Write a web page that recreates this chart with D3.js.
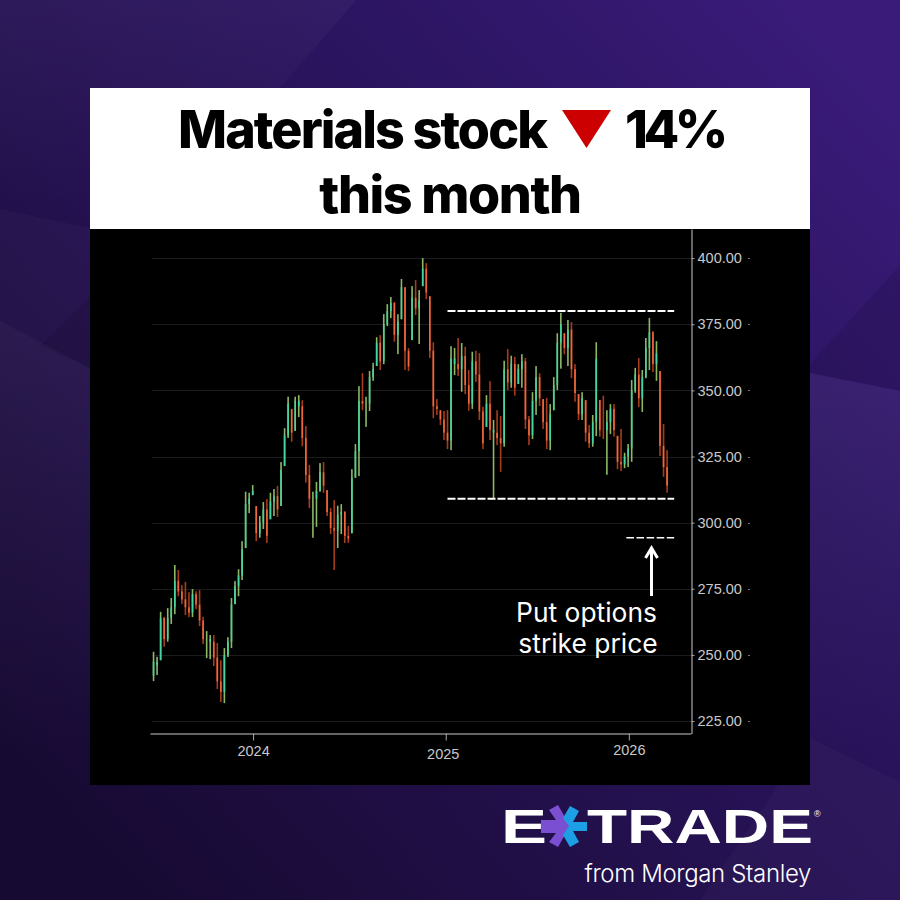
<!DOCTYPE html>
<html>
<head>
<meta charset="utf-8">
<script src="https://cdn.jsdelivr.net/npm/d3@7"></script>
<style>
  html, body { margin: 0; padding: 0; background: #21104a; }
  svg { display: block; }
</style>
</head>
<body>
<div id="chart"></div>
<script>
// weekly price bars
const highs = [251.2,249.3,266.3,264.4,267.7,271.5,284,282.1,276.4,277.6,273.7,274.9,274.1,274.5,264.4,259,257.5,257.5,254.5,248,252.6,256.7,271.5,277.9,282.4,293,
  311.7,311.3,314.2,306.3,302.5,307.8,308.9,311.3,312.7,313.9,322.9,335.7,347.6,342.9,347.6,348.2,346.3,336.5,321.8,311.7,315.4,322.5,322.9,312.3,305.5,308.5,306.4,307,304.4,298.8,320.2,329.7,351.6,356.5,
  347.6,357.3,360.4,370.1,370.9,378.8,382.6,385.3,383.4,378.8,392.1,389,366,389.4,391.7,387.9,400,398.1,385.6,368.2,346.7,342.5,342.2,342.5,
  366.7,366,369.8,367.9,366.5,357.7,364.6,365,364.1,343.8,348.2,353.5,338.8,342.5,340.3,361.2,365.6,363.1,362.7,359.9,363.7,362.3,340.3,349.3,359.2,356.5,346.7,347.2,344.8,355,371.6,379.3,371.6,376.6,
  375.8,359.9,348.6,349.3,346.3,336.9,340.7,368.2,346.3,348,342.5,344.8,344.8,332.8,335.4,326.4,329.7,353.9,358.5,362.2,357.7,369.8,377.4,372.4,368.6,357.3,337.3,327.4];
const lows = [240.1,242.4,248,253.1,255,261.7,265.4,272.2,269.2,265.1,264.3,264.3,267.3,260.9,254.1,248.8,248.4,245.8,237.1,232.2,231.8,249.2,252.6,269.2,272.2,278.3,
  290.4,303.6,310.4,293,294.3,297.6,292.3,301.3,302.5,302.2,306.3,321.4,332,330.6,334.7,339.9,328.9,315.1,305.5,294.3,298.4,311.7,311.3,302.5,295.7,282.1,290.4,295.7,292.3,292.4,296,317,317.6,342.5,
  336.2,342.2,353.6,359.2,357.7,359.9,374.3,377.3,368.4,363.7,376.9,357.7,357.3,369,378.5,367.5,389.4,384.5,362.2,339.5,340.7,336.9,331.2,327.8,
  327.4,355.8,355.4,349.5,348.6,342.3,343,353.2,338.8,327.8,336.2,331.2,308.9,329.3,319.2,328.7,350.1,351,348,352.4,351,335.4,329.3,331.6,340.7,344.1,335.4,327.8,327.4,342.5,350.1,358.2,363.7,359.2,
  354.6,345.7,338.8,338.8,330.6,328.3,328.7,332.7,332.5,331.6,318.1,333.5,332.5,320.2,319.5,320.6,321,323,349.1,343.7,341.8,354.6,357.7,356.9,353.6,325.2,317.3,311.3];
const closes = [247.5,246,264,256,264,268,278,274,271,268,266,273,269,263,256,256,255,249,240,236,250,255,269,276,280,290,
  307,309,312,296,300,305,295,308,310,305,320,333,345,334,346,344,332,318,309,309,312,319,314,304,298,297,303,304,295,294,317,327,346,345,
  345,355,358,368,361,375,380,383,371,376,389,365,359,385,381,384,396,387,365,344,343,339,334,331,
  362,360,358,363,352,345,361,356,342,330,345,335,334,332,330,358,353,360,351,358,361,339,333,346,355,347,338,331,341,352,368,375,366,373,
  358,349,341,347,334,330,338,362,335,335,338,343,335,323,322,325,328,350,356,347,355,366,372,360,364,329,321,314];
// G = up week, R = down week
const directions = ("GGGRGGGRRR" + "RGRRRGGRRR" + "GGGGGGGGGR" + "GGRGGRGGGR" + "GGRRRGGGRR" +
  "RRGGRRGGGR" + "GGGGRGGGRG" + "GRRGRGGRRR" + "RRRRGGRGRR" + "GRRRGRGRRG" +
  "RGRGGRRGGR" + "RRGGGGRGRR" + "RGRRGGRRGG" + "RRRGGGGRGG" + "GRGRRR");

const priceTicks = [225, 250, 275, 300, 325, 350, 375, 400];
const yearTicks = [28.1, 82.5, 134.2];
const yearLabels = ["2024", "2025", "2026"];

// dashed levels
const rangeLevels = [380, 309];
const strikeLevel = 294.3;

const svg = d3.select("#chart").append("svg")
  .attr("width", 900)
  .attr("height", 900);

const defs = svg.append("defs");
const bgGrad = defs.append("linearGradient").attr("id", "bg")
  .attr("gradientUnits", "userSpaceOnUse")
  .attr("x1", 900).attr("y1", 100).attr("x2", 100).attr("y2", 850);
bgGrad.append("stop").attr("offset", "0%").attr("stop-color", "#3a1b7a");
bgGrad.append("stop").attr("offset", "30%").attr("stop-color", "#2c1562");
bgGrad.append("stop").attr("offset", "60%").attr("stop-color", "#241150");
bgGrad.append("stop").attr("offset", "100%").attr("stop-color", "#170a32");

const waveGrad = defs.append("linearGradient").attr("id", "wave")
  .attr("gradientUnits", "userSpaceOnUse")
  .attr("x1", 0).attr("y1", 330).attr("x2", 0).attr("y2", 760);
waveGrad.append("stop").attr("offset", "0%").attr("stop-color", "#fff").attr("stop-opacity", 0.05);
waveGrad.append("stop").attr("offset", "100%").attr("stop-color", "#fff").attr("stop-opacity", 0);

const topGrad = defs.append("linearGradient").attr("id", "topfade")
  .attr("gradientUnits", "userSpaceOnUse")
  .attr("x1", 0).attr("y1", 0).attr("x2", 0).attr("y2", 210);
topGrad.append("stop").attr("offset", "0%").attr("stop-color", "#fff").attr("stop-opacity", 0.035);
topGrad.append("stop").attr("offset", "100%").attr("stop-color", "#fff").attr("stop-opacity", 0);

svg.append("rect").attr("width", 900).attr("height", 900).attr("fill", "url(#bg)");

// background facets
svg.append("polygon").attr("points", "0,0 356,0 278,90 200,210 0,210").attr("fill", "url(#topfade)");
svg.append("polygon").attr("points", "0,209 90,228 90,368 0,321").attr("fill", "#fff").attr("opacity", 0.025);
svg.append("polygon").attr("points", "90,297 40,346 90,368").attr("fill", "#000").attr("opacity", 0.1);
svg.append("polygon").attr("points", "900,265 810,364 810,373 900,391").attr("fill", "#000").attr("opacity", 0.1);
svg.append("polygon").attr("points", "0,321 90,368 810,373 900,391 900,800 0,800").attr("fill", "url(#wave)");
svg.append("polygon").attr("points", "810,738 900,782 900,900 700,900").attr("fill", "#fff").attr("opacity", 0.025);

// title panel
svg.append("rect").attr("x", 90).attr("y", 88).attr("width", 720).attr("height", 141).attr("fill", "#fff");
svg.append("rect").attr("x", 90).attr("y", 229).attr("width", 720).attr("height", 556).attr("fill", "#000");

const titleFont = "Inter, 'Noto Sans', sans-serif";
svg.append("text").attr("x", 178).attr("y", 148)
  .attr("font-family", titleFont).attr("font-weight", 800).attr("font-size", 52).attr("letter-spacing", -1.9)
  .attr("fill", "#000").text("Materials stock");
svg.append("polygon").attr("points", "562,110 611,110 586.5,148").attr("fill", "#cc0000");
svg.append("text").attr("x", 625).attr("y", 148)
  .attr("font-family", titleFont).attr("font-weight", 800).attr("font-size", 52).attr("letter-spacing", -4.5)
  .attr("fill", "#000").text("14%");
svg.append("text").attr("x", 450).attr("y", 213).attr("text-anchor", "middle")
  .attr("font-family", titleFont).attr("font-weight", 800).attr("font-size", 52).attr("letter-spacing", -1.4)
  .attr("fill", "#000").text("this month");

// scales
const x = d3.scaleLinear().domain([-1, 151.75]).range([150, 691]);
const y = d3.scaleLinear().domain([220.3, 411]).range([733.5, 229]);

const g = svg.append("g");

// grid
g.selectAll("line.grid")
  .data(priceTicks)
  .join("line")
  .attr("class", "grid")
  .attr("x1", 152).attr("x2", 691)
  .attr("y1", d => Math.round(y(d)) + 0.5)
  .attr("y2", d => Math.round(y(d)) + 0.5)
  .attr("stroke", "#1c1c1e");

// bars: full range dim, open to close bright
const openOf = (i) => i === 0 ? lows[0] + 2 : Math.min(highs[i], Math.max(lows[i], closes[i - 1]));
const bodyTop = (i) => Math.max(openOf(i), closes[i]);
const bodyBottom = (i) => Math.min(openOf(i), closes[i]);

g.selectAll("rect.wick")
  .data(highs)
  .join("rect")
  .attr("class", "wick")
  .attr("x", (d, i) => x(i) - 0.8)
  .attr("width", 1.6)
  .attr("y", d => y(d))
  .attr("height", (d, i) => y(lows[i]) - y(d))
  .attr("fill", (d, i) => directions[i] === "G" ? "#8cb866" : "#a63c1c");

g.selectAll("rect.body")
  .data(highs)
  .join("rect")
  .attr("class", "body")
  .attr("x", (d, i) => x(i) - 0.8)
  .attr("width", 1.6)
  .attr("y", (d, i) => y(bodyTop(i)))
  .attr("height", (d, i) => y(bodyBottom(i)) - y(bodyTop(i)))
  .attr("fill", (d, i) => directions[i] === "G" ? "#45d6a0" : "#f0683a");

// axes
const axisColor = "#c9c9c9";
const yAxis = d3.axisRight(y).tickValues(priceTicks).tickSize(3).tickSizeOuter(0).tickPadding(3).tickFormat(d3.format(".2f"));
const yAxisG = svg.append("g").attr("transform", "translate(691.5,0)").call(yAxis);
const xAxis = d3.axisBottom(x).tickValues(yearTicks).tickSize(7).tickSizeOuter(0).tickFormat((d, i) => yearLabels[i]);
const xAxisG = svg.append("g").attr("transform", "translate(0,733.5)").call(xAxis);

[yAxisG, xAxisG].forEach(a => {
  a.selectAll("path").attr("stroke", axisColor).attr("stroke-width", 1);
  a.selectAll("line").attr("stroke", "#a8a8a8");
  a.selectAll("text").attr("fill", axisColor)
    .attr("font-family", "'Liberation Sans', Arial, sans-serif").attr("font-size", 14.5);
});

// the year labels do not sit on one line in the original
const yearBaselines = [22.5, 25, 21.5];
const yearShift = [0, -3, 0];
xAxisG.selectAll("text")
  .attr("y", (d, i) => yearBaselines[i])
  .attr("dy", 0)
  .attr("dx", (d, i) => yearShift[i]);

// the little far tick right of the price labels
svg.selectAll("line.far")
  .data(priceTicks)
  .join("line")
  .attr("class", "far")
  .attr("x1", 748).attr("x2", 750)
  .attr("y1", d => Math.round(y(d)) + 0.5)
  .attr("y2", d => Math.round(y(d)) + 0.5)
  .attr("stroke", "#777");

// dashed annotations
svg.selectAll("line.level")
  .data(rangeLevels)
  .join("line")
  .attr("class", "level")
  .attr("x1", x(83)).attr("x2", x(147))
  .attr("y1", d => y(d)).attr("y2", d => y(d))
  .attr("stroke", "#fff").attr("stroke-width", 2).attr("stroke-dasharray", "8 2");

svg.append("line")
  .attr("x1", x(133.5)).attr("x2", x(147))
  .attr("y1", y(strikeLevel)).attr("y2", y(strikeLevel))
  .attr("stroke", "#fff").attr("stroke-width", 1.6).attr("stroke-dasharray", "7.6 2.5");

svg.append("path")
  .attr("d", "M651.5,596 L651.5,548 M645.5,558 L651.5,548 L657.5,558")
  .attr("fill", "none").attr("stroke", "#fff").attr("stroke-width", 3);

const noteFont = "Inter, 'Noto Sans', sans-serif";
svg.append("text").attr("x", 586.5).attr("y", 622).attr("text-anchor", "middle")
  .attr("font-family", noteFont).attr("font-weight", 400).attr("font-size", 26.4).attr("fill", "#fff").text("Put options");
svg.append("text").attr("x", 588).attr("y", 653).attr("text-anchor", "middle")
  .attr("font-family", noteFont).attr("font-weight", 400).attr("font-size", 26.4).attr("fill", "#fff").text("strike price");

// logo
const logo = svg.append("g");
logo.append("text").attr("x", 501).attr("y", 843)
  .attr("font-family", "'Liberation Sans', sans-serif").attr("font-weight", 700).attr("font-size", 49)
  .attr("textLength", 46).attr("lengthAdjust", "spacingAndGlyphs").attr("fill", "#fff").text("E");
logo.append("polygon")
  .attr("points", "549,810 558,805 566,819 570,826 558,847 549,842 556,833 541,833 541,820 556,820")
  .attr("fill", "#7b4fd2");
logo.append("polygon")
  .attr("points", "570,806 579,811 573,822 587,822 587,831 573,831 579,842 570,847 563,835 569,826 563,818")
  .attr("fill", "#1d9fe6");
logo.append("text").attr("x", 587).attr("y", 843)
  .attr("font-family", "'Liberation Sans', sans-serif").attr("font-weight", 700).attr("font-size", 49)
  .attr("textLength", 226).attr("lengthAdjust", "spacingAndGlyphs").attr("fill", "#fff").text("TRADE");
logo.append("text").attr("x", 814).attr("y", 817)
  .attr("font-family", "'Liberation Sans', sans-serif").attr("font-size", 9).attr("fill", "#fff").text("®");
logo.append("text").attr("x", 811).attr("y", 882).attr("text-anchor", "end")
  .attr("font-family", "Inter, sans-serif").attr("font-weight", 300).attr("font-size", 24).attr("letter-spacing", -0.35)
  .attr("fill", "#fff").text("from Morgan Stanley");
</script>
</body>
</html>
